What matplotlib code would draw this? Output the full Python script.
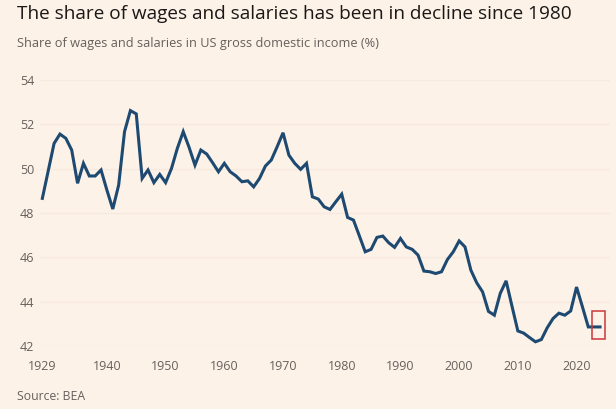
import matplotlib
matplotlib.use("Agg")
import matplotlib.pyplot as plt
from matplotlib.patches import Rectangle

# data (share of wages and salaries in US GDI, %)
years = list(range(1929, 2025))
share = [
    48.66, 49.90, 51.14, 51.56, 51.37, 50.84, 49.34, 50.24, 49.67, 49.67,
    49.94, 49.03, 48.18, 49.26, 51.67, 52.62, 52.47, 49.56, 49.94, 49.37,
    49.74, 49.37, 50.01, 50.92, 51.67, 50.96, 50.16, 50.84, 50.66, 50.27,
    49.86, 50.24, 49.86, 49.67, 49.41, 49.45, 49.18, 49.56, 50.12, 50.39,
    50.99, 51.62, 50.61, 50.24, 49.97, 50.24, 48.73, 48.63, 48.28, 48.16,
    48.51, 48.85, 47.80, 47.68, 46.97, 46.25, 46.36, 46.90, 46.96, 46.66,
    46.45, 46.85, 46.47, 46.36, 46.10, 45.38, 45.35, 45.27, 45.35, 45.90,
    46.25, 46.74, 46.47, 45.42, 44.85, 44.44, 43.56, 43.39, 44.37, 44.94,
    43.80, 42.68, 42.58, 42.38, 42.19, 42.29, 42.82, 43.24, 43.48, 43.39,
    43.58, 44.66, 43.77, 42.86, 42.86, 42.86,
]
xticks = [1929, 1940, 1950, 1960, 1970, 1980, 1990, 2000, 2010, 2020]
yticks = [42, 44, 46, 48, 50, 52, 54]

bg = "#fdf2e8"
grey = "#66605c"

plt.rcParams["font.family"] = ["Open Sans", "DejaVu Sans"]

fig = plt.figure(figsize=(6.16, 4.09), dpi=100, facecolor=bg)
ax = fig.add_axes([40 / 616, 1 - 346 / 409, 570 / 616, 266 / 409])
ax.set_facecolor(bg)

ax.plot(years, share, color="#1e4a72", linewidth=2.2, solid_joinstyle="miter", zorder=3)

# red highlight box around latest values
ax.add_patch(Rectangle((2022.6, 42.3), 2.2, 1.29, fill=False,
                       edgecolor="#c8383a", linewidth=1.1, zorder=4))

ax.set_xlim(1928.6, 2025.7)
ax.set_ylim(42, 54)
ax.set_xticks(xticks)
ax.set_yticks(yticks)
ax.grid(axis="y", color="#f6eadf", linewidth=0.9)
ax.set_axisbelow(True)
for s in ax.spines.values():
    s.set_visible(False)
ax.tick_params(axis="both", length=0, labelsize=9, labelcolor=grey)
ax.tick_params(axis="y", pad=4)
ax.tick_params(axis="x", pad=10)

fig.text(17 / 616, 1 - 14 / 409, "The share of wages and salaries has been in decline since 1980",
         fontsize=13.7, color="#1a1817", va="center", ha="left")
fig.text(17 / 616, 1 - 44 / 409, "Share of wages and salaries in US gross domestic income (%)",
         fontsize=9.2, color=grey, va="center", ha="left")
fig.text(17 / 616, 1 - 397 / 409, "Source: BEA", fontsize=8.8, color=grey, va="center", ha="left")

fig.savefig("out.png", dpi=100, facecolor=bg)
